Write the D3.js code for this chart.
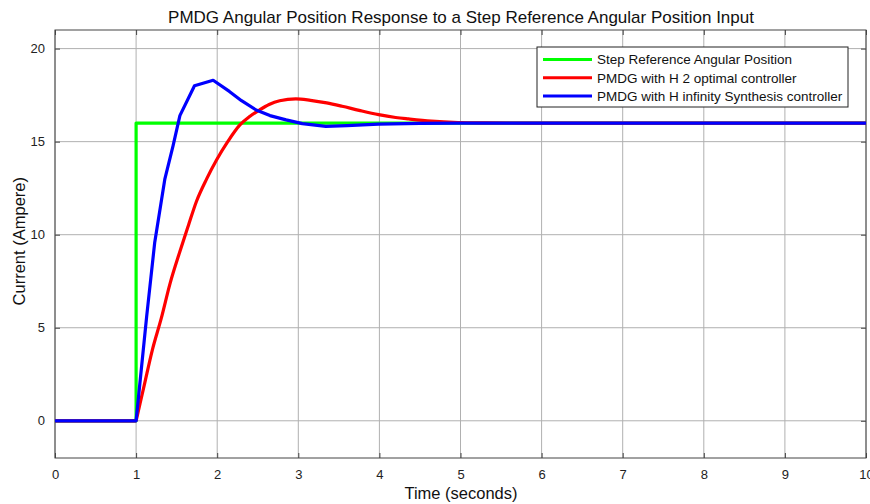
<!DOCTYPE html>
<html>
<head>
<meta charset="utf-8">
<script src="https://cdn.jsdelivr.net/npm/d3@7"></script>
<style>
  body { margin: 0; background: #fff; }
  svg { font-family: "Liberation Sans", Arial, sans-serif; }
</style>
</head>
<body>
<div id="chart"></div>
<script>
// series (time in seconds, current in ampere)
var stepT = [0, 1, 1, 10];
var stepV = [0, 0, 16, 16];

var h2T = [0, 1, 1.1, 1.2, 1.31, 1.42, 1.54, 1.645, 1.745, 1.87, 1.99, 2.13, 2.28, 2.4, 2.52, 2.64, 2.77, 2.97, 3.15, 3.35, 3.54, 3.75, 3.99, 4.2, 4.36, 4.64, 4.97, 5.3, 5.8, 10];
var h2V = [0, 0, 1.9, 3.8, 5.5, 7.4, 9.1, 10.5, 11.8, 13.0, 14.0, 15.0, 15.9, 16.35, 16.7, 17.0, 17.2, 17.3, 17.22, 17.08, 16.9, 16.68, 16.45, 16.3, 16.22, 16.1, 16.03, 16.01, 16.0, 16];

var hinfT = [0, 1, 1.13, 1.23, 1.355, 1.457, 1.54, 1.72, 1.95, 2.15, 2.3, 2.48, 2.65, 2.85, 3.05, 3.34, 3.6, 3.99, 4.5, 5, 10];
var hinfV = [0, 0, 5.6, 9.6, 13.0, 14.8, 16.4, 18.0, 18.3, 17.7, 17.2, 16.7, 16.4, 16.17, 15.97, 15.82, 15.86, 15.94, 15.98, 16.0, 16];

var xTicks = [0, 1, 2, 3, 4, 5, 6, 7, 8, 9, 10];
var yTicks = [0, 5, 10, 15, 20];

var legendNames = ["Step Reference Angular Position", "PMDG with H 2 optimal controller", "PMDG with H infinity Synthesis controller"];
var colors = ["#00ff00", "#ff0000", "#0000ff"];

var margin = {top: 30, right: 4, bottom: 46, left: 55},
    width = 870 - margin.left - margin.right,
    height = 504 - margin.top - margin.bottom;

var svg = d3.select("#chart")
  .append("svg")
    .attr("width", 870)
    .attr("height", 504)
  .append("g")
    .attr("transform", "translate(" + margin.left + "," + margin.top + ")");

var x = d3.scaleLinear()
  .domain([0, 10])
  .range([0, width]);

var y = d3.scaleLinear()
  .domain([-2, 21])
  .range([height, 0]);

// grid
svg.append("g")
  .selectAll("line")
  .data(xTicks)
  .enter()
  .append("line")
    .attr("x1", function (d) { return x(d); })
    .attr("x2", function (d) { return x(d); })
    .attr("y1", 0)
    .attr("y2", height)
    .style("stroke", "#b0b0b0")
    .style("stroke-width", 1);

svg.append("g")
  .selectAll("line")
  .data(yTicks)
  .enter()
  .append("line")
    .attr("x1", 0)
    .attr("x2", width)
    .attr("y1", function (d) { return y(d); })
    .attr("y2", function (d) { return y(d); })
    .style("stroke", "#b0b0b0")
    .style("stroke-width", 1);

// axes, ticks pointing inward like matlab
svg.append("g")
  .attr("transform", "translate(0," + height + ")")
  .call(d3.axisBottom(x).tickValues(xTicks).tickSizeInner(-5).tickSizeOuter(0).tickPadding(12));
svg.append("g")
  .call(d3.axisLeft(y).tickValues(yTicks).tickSizeInner(-5).tickSizeOuter(0).tickPadding(10));
svg.append("g")
  .call(d3.axisTop(x).tickValues(xTicks).tickSizeInner(-5).tickSizeOuter(0).tickFormat(""));
svg.append("g")
  .attr("transform", "translate(" + width + ",0)")
  .call(d3.axisRight(y).tickValues(yTicks).tickSizeInner(-5).tickSizeOuter(0).tickFormat(""));

svg.selectAll(".domain").remove();
svg.selectAll(".tick line").style("stroke", "#444");
svg.selectAll(".tick text")
  .style("font-family", "'Liberation Sans', Arial, sans-serif")
  .style("font-size", "13px")
  .style("fill", "#222");

svg.append("rect")
  .attr("x", 0)
  .attr("y", 0)
  .attr("width", width)
  .attr("height", height)
  .style("fill", "none")
  .style("stroke", "#444")
  .style("stroke-width", 1);

// lines: the flat part before the step is drawn straight, the response after it smoothed
var series = [
  {t: stepT, v: stepV, curve: d3.curveLinear},
  {t: h2T, v: h2V, curve: d3.curveMonotoneX},
  {t: hinfT, v: hinfV, curve: d3.curveLinear}
];

series.forEach(function (s, i) {
  var pts = d3.zip(s.t, s.v);
  var line = d3.line()
    .x(function (d) { return x(d[0]); })
    .y(function (d) { return y(d[1]); });
  var pieces = [pts];
  if (s.curve !== d3.curveLinear) {
    var k = s.t.indexOf(1);
    pieces = [pts.slice(0, k + 1), pts.slice(k)];
  }
  pieces.forEach(function (p, j) {
    svg.append("path")
      .datum(p)
      .attr("d", line.curve(j === 0 && pieces.length > 1 ? d3.curveLinear : s.curve))
      .style("fill", "none")
      .style("stroke", colors[i])
      .style("stroke-width", 3.2)
      .style("stroke-linejoin", "round");
  });
});

// legend
var legend = svg.append("g")
  .attr("transform", "translate(" + (537 - margin.left) + "," + (47 - margin.top) + ")");
legend.append("rect")
  .attr("width", 311)
  .attr("height", 60)
  .style("fill", "#fff")
  .style("stroke", "#222")
  .style("stroke-width", 1);
legend.selectAll("line")
  .data(legendNames)
  .enter()
  .append("line")
    .attr("x1", 6)
    .attr("x2", 55)
    .attr("y1", function (d, i) { return 12.5 + i * 18.3; })
    .attr("y2", function (d, i) { return 12.5 + i * 18.3; })
    .style("stroke", function (d, i) { return colors[i]; })
    .style("stroke-width", 3);
legend.selectAll("text")
  .data(legendNames)
  .enter()
  .append("text")
    .attr("x", 60)
    .attr("y", function (d, i) { return 12.5 + i * 18.3; })
    .attr("dy", "0.35em")
    .style("font-size", "13.5px")
    .style("fill", "#111")
    .text(function (d) { return d; });

// labels
svg.append("text")
  .attr("x", 461 - margin.left)
  .attr("y", -7)
  .attr("text-anchor", "middle")
  .style("font-size", "17px")
  .style("fill", "#111")
  .text("PMDG Angular Position Response to a Step Reference Angular Position Input");

svg.append("text")
  .attr("x", 461 - margin.left)
  .attr("y", height + 41)
  .attr("text-anchor", "middle")
  .style("font-size", "16.5px")
  .style("fill", "#111")
  .text("Time (seconds)");

svg.append("text")
  .attr("transform", "rotate(-90)")
  .attr("x", -(y(9.65)))
  .attr("y", -30)
  .attr("text-anchor", "middle")
  .style("font-size", "16.5px")
  .style("fill", "#111")
  .text("Current (Ampere)");
</script>
</body>
</html>
